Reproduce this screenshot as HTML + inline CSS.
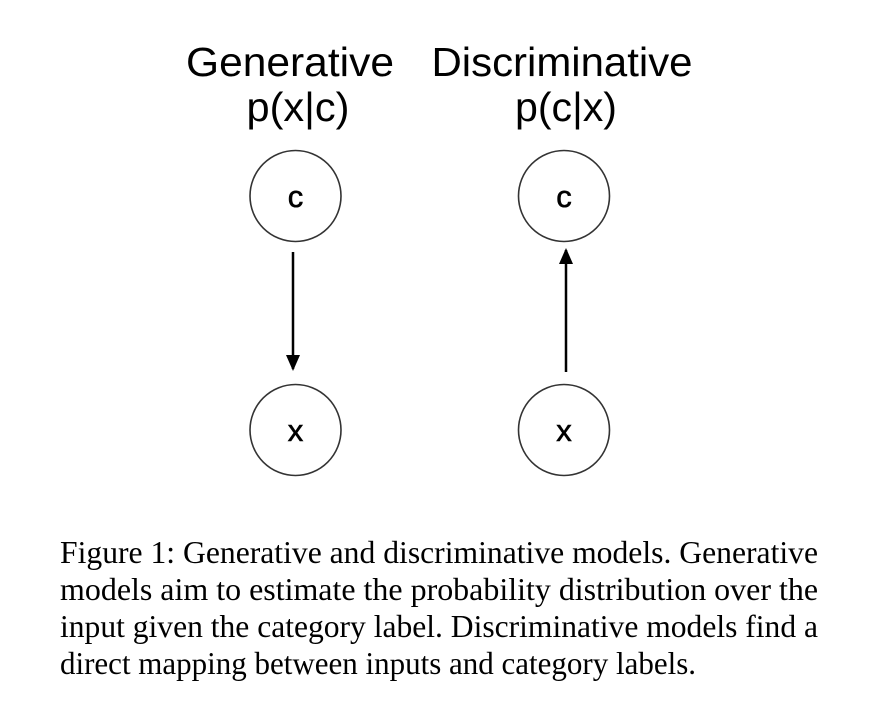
<!DOCTYPE html>
<html><head><meta charset="utf-8"><style>
html,body{margin:0;padding:0;background:#fff;}
svg{display:block;}
</style></head><body>
<svg width="876" height="717" viewBox="0 0 876 717">
<defs>
<marker id="ah" markerWidth="16" markerHeight="14" refX="14" refY="7" orient="auto" markerUnits="userSpaceOnUse" viewBox="0 0 16 14"><path d="M0,0 L16,7 L0,14 z" fill="#000"/></marker>
</defs>
<g font-family="Liberation Sans, Arial, sans-serif" fill="#000">
<text x="290" y="76" font-size="41" text-anchor="middle" textLength="208" lengthAdjust="spacingAndGlyphs">Generative</text>
<text x="562" y="76" font-size="41" text-anchor="middle" textLength="261" lengthAdjust="spacingAndGlyphs">Discriminative</text>
<text x="298" y="121" font-size="41" text-anchor="middle" textLength="103" lengthAdjust="spacingAndGlyphs">p(x|c)</text>
<text x="566" y="121" font-size="41" text-anchor="middle" textLength="102" lengthAdjust="spacingAndGlyphs">p(c|x)</text>
</g>
<g fill="#fff" stroke="#333" stroke-width="1.6">
<circle cx="295.5" cy="196" r="45.5"/>
<circle cx="564" cy="196" r="45.5"/>
<circle cx="295.5" cy="430" r="45.5"/>
<circle cx="564" cy="430" r="45.5"/>
</g>
<g font-family="Liberation Sans, Arial, sans-serif" font-size="31" text-anchor="middle" fill="#000" stroke="#000" stroke-width="0.6">
<text x="295.5" y="207">c</text>
<text x="564" y="207">c</text>
<text x="295.5" y="441">x</text>
<text x="564" y="441">x</text>
</g>
<line x1="293" y1="252" x2="293" y2="369" stroke="#000" stroke-width="2.5" marker-end="url(#ah)"/>
<line x1="566" y1="372" x2="566" y2="250" stroke="#000" stroke-width="2.5" marker-end="url(#ah)"/>
<g font-family="Liberation Serif, Times New Roman, serif" font-size="32" fill="#000">
<text x="60" y="563" textLength="758" lengthAdjust="spacingAndGlyphs">Figure 1: Generative and discriminative models.  Generative</text>
<text x="60" y="600" textLength="758" lengthAdjust="spacingAndGlyphs">models aim to estimate the probability distribution over the</text>
<text x="60" y="637" textLength="758" lengthAdjust="spacingAndGlyphs">input given the category label.  Discriminative models find a</text>
<text x="60" y="674" textLength="636" lengthAdjust="spacingAndGlyphs">direct mapping between inputs and category labels.</text>
</g>
</svg>
</body></html>
